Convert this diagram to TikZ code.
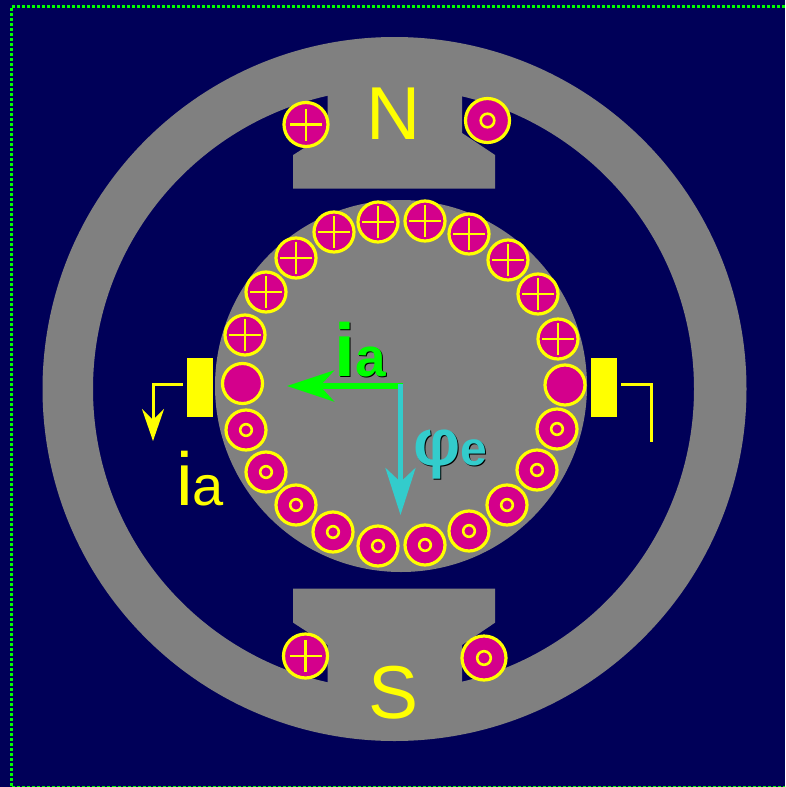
\documentclass[tikz,border=0pt]{standalone}
\usepackage{fontspec}
\setmainfont{Liberation Sans}
\newfontfamily\heavysans[UprightFont=* Bold]{Liberation Sans}
\usetikzlibrary{arrows.meta}
\definecolor{bgnavy}{HTML}{000058}
\definecolor{steel}{HTML}{808080}
\definecolor{wire}{HTML}{D4008C}
\definecolor{volt}{HTML}{FFFF00}
\definecolor{lime}{HTML}{00FF00}
\definecolor{aqua}{HTML}{33CCCC}
\newcommand{\fsbig}{\fontsize{75}{75}\selectfont}
\newcommand{\fsa}{\fontsize{56}{56}\selectfont}
\newcommand{\txtia}{{\heavysans\fsbig i\fontsize{55}{55}\selectfont a}}
\newcommand{\txtphi}{{\heavysans\fontsize{66}{66}\selectfont φ\fontsize{48}{48}\selectfont e}}
\tikzset{
  x=1pt,y=-1pt,
  coilbase/.style={circle,draw=volt,fill=wire,line width=3.2pt,minimum size=40pt,inner sep=0pt,outer sep=0pt},
  coilbig/.style={coilbase,minimum size=44pt},
  plusmark/.style={path picture={
    \draw[volt,line width=2.4pt] ([xshift=-16pt]path picture bounding box.center) -- ([xshift=16pt]path picture bounding box.center);
    \draw[volt,line width=2.4pt] ([yshift=-16pt]path picture bounding box.center) -- ([yshift=16pt]path picture bounding box.center);}},
  dotmark/.style={path picture={
    \draw[volt,line width=2.6pt] (path picture bounding box.center) circle[radius=5.8pt];}},
  bigdotmark/.style={path picture={
    \draw[volt,line width=2.6pt] (path picture bounding box.center) circle[radius=6.8pt];}},
  brush/.style={rectangle,fill=volt,minimum width=26pt,minimum height=59.5pt,inner sep=0pt,outer sep=0pt},
  lead/.style={volt,line width=3pt},
  label/.style={inner sep=0pt,anchor=base west},
  frameline/.style={lime,line width=3pt,dash pattern=on 3pt off 2pt},
}
\begin{document}
\begin{tikzpicture}
\useasboundingbox (0,0) rectangle (785,787);
\fill[bgnavy] (0,0) rectangle (785,787);
\begin{scope}
\clip (0,0) rectangle (785,787);
\draw[frameline] (800,6.5) -- (11.5,6.5) -- (11.5,787) -- (800,787);
\end{scope}
% yoke
\fill[steel,even odd rule] (394.5,389) circle[radius=352] (393.5,389) circle[radius=300.5];
% poles
\fill[steel] (327.5,70) -- (327.5,133) -- (293.2,155) -- (293.2,188.5) -- (495,188.5) -- (495,155) -- (462,133) -- (462,70) -- cycle;
\fill[steel] (293.2,588.7) -- (495,588.7) -- (495,622.7) -- (462,645) -- (462,710) -- (327.5,710) -- (327.5,645) -- (293.2,622.7) -- cycle;
% rotor
\fill[steel] (401,386) circle[radius=186];
% stator coils
\node[coilbig,plusmark] (sa) at (306,124.5) {};
\node[coilbig,bigdotmark] (sb) at (487.5,120.5) {};
\node[coilbig,plusmark] (sc) at (305.5,656) {};
\node[coilbig,bigdotmark] (sd) at (484,658) {};
% rotor coils
\foreach \n/\x/\y in {1/245/335,2/266/292,3/296/258,4/334/232,5/378/222,6/425/221,7/469/234,8/508/260,9/538/294,10/558/339}
  \node[coilbase,plusmark] (p\n) at (\x,\y) {};
\foreach \n/\x/\y in {1/246/430,2/266/472,3/296/505,4/333/532,5/378/546,6/425/545,7/469/531,8/507/505,9/537/470,10/557/429}
  \node[coilbase,dotmark] (d\n) at (\x,\y) {};
\node[coilbase] (ml) at (242.5,383.5) {};
\node[coilbase] (mr) at (565,385) {};
% brushes and leads
\node[brush] (bl) at (199.7,387.3) {};
\node[brush] (br) at (604,387.3) {};
\coordinate (la) at (183,384);
\coordinate (lb) at (153,384);
\coordinate (lc) at (153,441);
\coordinate (ra) at (621,384);
\coordinate (rb) at (651,384);
\coordinate (rc) at (651,442);
\draw[lead,-{Stealth[length=32pt,width=22pt,inset=11pt]}] (la) -- (lb) -- (lc);
\draw[lead] (ra) -- (rb) -- (rc);
% vectors
\coordinate (o) at (403,386);
\coordinate (og) at (287,386);
\coordinate (oc) at (400.5,384);
\coordinate (oe) at (400.5,515);
\draw[lime,line width=6pt,-{Stealth[length=47pt,width=31pt,inset=14pt]}] (o) -- (og);
\draw[aqua,line width=5pt,-{Stealth[length=47pt,width=30pt,inset=14pt]}] (oc) -- (oe);
% texts
\node[label,volt,font=\fsbig] (tn) at (366.5,139) {N};
\node[label,volt,font=\fsbig] (ts) at (368,718.5) {S};
\node[label,volt] (tia) at (176,505) {\fsbig i\fsa a};
\node[label,black] (ias) at (335.5,377.5) {\txtia};
\node[label,lime] (iaf) at (334,376) {\txtia};
\node[label,black] (phs) at (414.5,466.5) {\txtphi};
\node[label,aqua] (phf) at (413,465) {\txtphi};
\end{tikzpicture}
\end{document}
